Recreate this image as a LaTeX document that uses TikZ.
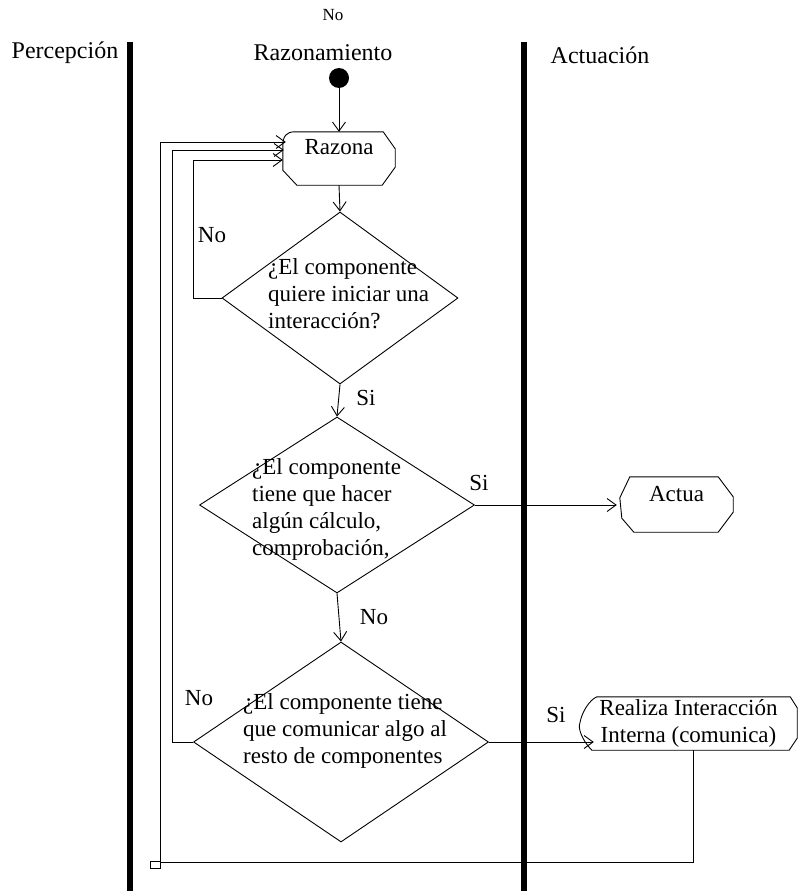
\documentclass[tikz,border=0pt]{standalone}
\usepackage{fontspec}
\setmainfont{Liberation Serif}
\usetikzlibrary{arrows.meta,shapes.geometric,calc}

\begin{document}
\begin{tikzpicture}[x=1pt,y=-1pt,
  font=\fontsize{23}{27}\selectfont,
  flow/.style={line width=0.9pt},
  arr/.style={flow,-{Straight Barb[length=9pt,width=13pt,line width=0.9pt]}},
  lane/.style={line width=5.5pt},
  decision/.style={diamond,draw,line width=0.9pt,inner sep=0pt},
  qtext/.style={anchor=north west,align=left,inner sep=0pt},
  action/.style={rectangle,inner sep=0pt},
  lanetitle/.style={inner sep=0pt,font=\fontsize{24}{28}\selectfont},
  guard/.style={inner sep=0pt}
]
\useasboundingbox (0,0) rectangle (798,891);

% swimlane titles and separators
\node[guard,font=\fontsize{17}{20}\selectfont] (topno) at (333,15) {No};
\node[lanetitle] (lp) at (65,53) {Percepción};
\node[lanetitle] (lr) at (323,53) {Razonamiento};
\node[lanetitle] (la) at (600,55) {Actuación};
\coordinate (bar1t) at (130,42);
\coordinate (bar1b) at (130,891);
\coordinate (bar2t) at (524,42);
\coordinate (bar2b) at (524,891);
\draw[lane] (bar1t) -- (bar1b);
\draw[lane] (bar2t) -- (bar2b);

% initial state
\node[circle,fill,minimum size=20pt,inner sep=0pt] (start) at (339,78) {};

% action states
\node[action,minimum width=112pt,minimum height=53pt,text height=22pt,text depth=31pt] (razona) at (339,158.5) {Razona};
\draw[flow] ($(razona.north west)+(0,14)$) .. controls ($(razona.north west)+(0,4)$) and ($(razona.north west)+(4,0)$) .. ($(razona.north west)+(12,0)$)
  -- ($(razona.north east)+(-12,0)$) -- ($(razona.north east)+(0,17)$) -- ($(razona.south east)+(0,-18)$)
  -- ($(razona.south east)+(-13,0)$) -- ($(razona.south west)+(14,0)$) -- ($(razona.south west)+(0,-15)$) -- cycle;

\node[action,minimum width=113pt,minimum height=55pt,text height=24pt,text depth=31pt] (actua) at (676.5,504.5) {Actua};
\draw[flow] ($(actua.north west)+(10,0)$) -- ($(actua.north east)+(-15,0)$) -- ($(actua.north east)+(0,20)$)
  -- ($(actua.south east)+(0,-20)$) -- ($(actua.south east)+(-15,0)$) -- ($(actua.south west)+(14,0)$)
  -- ($(actua.south west)+(2,-14)$) -- ($(actua.north west)+(0,21)$) -- cycle;

\node[action,minimum width=217pt,minimum height=53pt,align=center] (realiza) at (688.5,723.5) {Realiza Interacción\\Interna (comunica)};
\draw[flow] ($(realiza.north west)+(17,0)$) -- ($(realiza.north east)+(-7,0)$) -- ($(realiza.north east)+(0,11)$)
  -- ($(realiza.south east)+(0,-12)$) -- ($(realiza.south east)+(-8,0)$) -- ($(realiza.south west)+(12,0)$)
  .. controls ($(realiza.south west)+(2,-10)$) and ($(realiza.west)+(-2,4)$) .. (realiza.west)
  .. controls ($(realiza.west)+(2,-12)$) and ($(realiza.north west)+(10,3)$) .. ($(realiza.north west)+(17,0)$);

% decisions
\node[decision,minimum width=236pt,minimum height=172pt] (d1) at (340,298) {};
\node[decision,minimum width=275pt,minimum height=176pt] (d2) at (337,505) {};
\node[decision,minimum width=295pt,minimum height=200pt] (d3) at (341,742) {};

\node[qtext] (q1) at (268,258) {¿El componente\\quiere iniciar una\\interacción?};
\node[qtext] (q2) at (252,458) {¿El componente\\tiene que hacer\\algún cálculo,\\comprobación,};
\node[qtext] (q3) at (243,693) {¿El componente tiene\\que comunicar algo al\\resto de componentes};

% main flow
\draw[arr] (start) -- (razona.north);
\draw[arr] (razona.south) -- (d1.north);
\draw[arr] (d1.south) -- (d2.north);
\draw[arr] (d2.south) -- (d3.north);
\draw[arr] (d2.east) -- ($(d2.east -| actua.west)+(-3,0)$);
\draw[arr] (d3.east) -- ($(d3.east -| realiza.west)+(14,0)$);

% loops back to Razona
\coordinate (l1) at (193,160);
\draw[arr] (d1.west) -- (d1.west -| l1) -- (l1) -- (l1 -| razona.west);
\coordinate (l2) at (172,150);
\draw[arr] (d3.west) -- (d3.west -| l2) -- (l2) -- ($(l2 -| razona.west)+(1,0)$);
\coordinate (retR) at (693,862);
\coordinate (retL) at (160,862);
\coordinate (l3) at (160,142);
\draw[arr] (realiza.south -| retR) -- (retR) -- (retL) -- (l3) -- ($(l3 -| razona.west)+(3,0)$);
\draw[flow] ($(retL)+(-10,-1)$) rectangle ($(retL)+(0,6)$);

% guards
\node[guard] (g1) at (212,235) {No};
\node[guard] (g2) at (366,398) {Si};
\node[guard] (g3) at (479,483) {Si};
\node[guard] (g4) at (374,617) {No};
\node[guard] (g5) at (199,698) {No};
\node[guard] (g6) at (556,715) {Si};
\end{tikzpicture}
\end{document}
